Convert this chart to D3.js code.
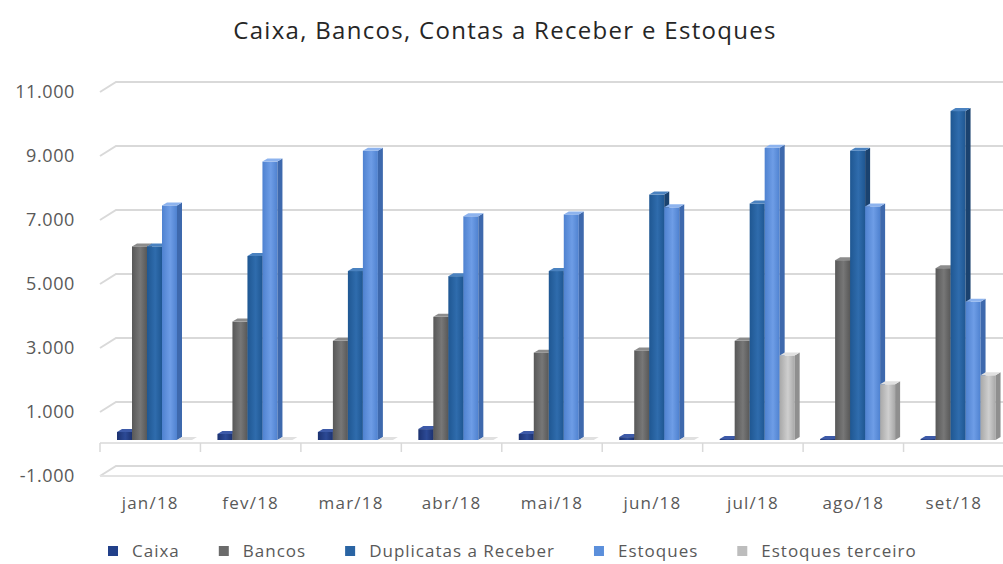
<!DOCTYPE html>
<html>
<head>
<meta charset="utf-8">
<script src="https://cdn.jsdelivr.net/npm/d3@7"></script>
<style>
  body { margin: 0; background: #fff; }
  text { font-family: "Open Sans", sans-serif; fill: #595959; }
</style>
</head>
<body>
<div id="chart"></div>
<script>
// data
let months = ["jan/18", "fev/18", "mar/18", "abr/18", "mai/18", "jun/18", "jul/18", "ago/18", "set/18"];
let seriesNames = ["Caixa", "Bancos", "Duplicatas a Receber", "Estoques", "Estoques terceiro"];
let caixa = [250, 190, 250, 340, 190, 90, 30, 30, 30];
let bancos = [6050, 3700, 3100, 3850, 2730, 2800, 3100, 5620, 5370];
let duplicatas = [6050, 5750, 5280, 5120, 5280, 7670, 7390, 9040, 10280];
let estoques = [7330, 8700, 9040, 6990, 7050, 7270, 9130, 7300, 4320];
let terceiro = [0, 0, 0, 0, 0, 0, 2640, 1740, 2020];
let yTicks = [-1000, 1000, 3000, 5000, 7000, 9000, 11000];

let values = [caixa, bancos, duplicatas, estoques, terceiro];

let width = 1003, height = 564;

// shades: front (left, mid), side, top, legend
let colors = [
  {l: "#1c3270", m: "#2c4a96", side: "#15275a", top: "#3d5aa8", key: "#22408a"},
  {l: "#585858", m: "#777777", side: "#474747", top: "#8c8c8c", key: "#6b6b6b"},
  {l: "#1f5792", m: "#2f6cad", side: "#1a426f", top: "#4a82c0", key: "#2a64a3"},
  {l: "#4f82d0", m: "#6e9de6", side: "#3e69ad", top: "#8db3ee", key: "#5b8fdb"},
  {l: "#a8a8a8", m: "#cfcfcf", side: "#8f8f8f", top: "#e0e0e0", key: "#bdbdbd"}
];

let pt = d3.formatLocale({decimal: ",", thousands: ".", grouping: [3], currency: ["R$", ""], minus: "-"});
let fmt = pt.format(",.0f");

let svg = d3.select("#chart")
.append("svg")
.attr("width", width)
.attr("height", height);

let defs = svg.append("defs");
colors.forEach(function(c, i) {
  let g = defs.append("linearGradient")
  .attr("id", "grad" + i)
  .attr("x1", 0).attr("x2", 1).attr("y1", 0).attr("y2", 0);
  g.append("stop").attr("offset", "0%").attr("stop-color", c.l);
  g.append("stop").attr("offset", "55%").attr("stop-color", c.m);
  g.append("stop").attr("offset", "100%").attr("stop-color", c.l);
});

let x = d3.scaleBand().domain(months).range([100, 1004]).padding(0);
let xs = d3.scaleBand().domain(seriesNames).range([17, 92]).padding(0);
let y = d3.scaleLinear().domain([-1000, 11000]).range([476, 92]);

// box depth (walls) and bar depth
let wallDx = 16, wallDy = 10;
let barDx = 5, barDy = 3, barShift = 4;

// title
svg.append("text")
.attr("x", 505)
.attr("y", 33)
.attr("text-anchor", "middle")
.attr("dominant-baseline", "middle")
.style("font-size", "24px")
.style("letter-spacing", "1.3px")
.style("fill", "#262626")
.text("Caixa, Bancos, Contas a Receber e Estoques");

// gridlines on left + back walls
svg.append("g")
.selectAll("path")
.data(yTicks)
.enter().append("path")
.attr("fill", "none")
.attr("stroke", "#d9d9d9")
.attr("stroke-width", 2)
.attr("d", function(d) {
  return "M" + 100 + "," + y(d) + "L" + (100 + wallDx) + "," + (y(d) - wallDy) + "L" + width + "," + (y(d) - wallDy);
});

// floor front edge
svg.append("line")
.attr("x1", 100).attr("x2", width)
.attr("y1", y(-1000)).attr("y2", y(-1000))
.attr("stroke", "#e3e3e3").attr("stroke-width", 2);

// y labels
svg.append("g")
.selectAll("text")
.data(yTicks)
.enter().append("text")
.attr("x", 75)
.attr("y", d => y(d) + 1)
.attr("text-anchor", "end")
.attr("dominant-baseline", "middle")
.style("font-size", "18px")
.style("letter-spacing", "0.6px")
.text(d => fmt(d));

// category axis at zero
let axisY = y(0) - 1;
svg.append("line")
.attr("x1", 100).attr("x2", width)
.attr("y1", axisY).attr("y2", axisY)
.attr("stroke", "#d9d9d9").attr("stroke-width", 1.5);

svg.append("g")
.selectAll("line")
.data(months)
.enter().append("line")
.attr("x1", d => x(d)).attr("x2", d => x(d))
.attr("y1", axisY).attr("y2", axisY + 9)
.attr("stroke", "#d9d9d9").attr("stroke-width", 1.5);

svg.append("g")
.selectAll("text")
.data(months)
.enter().append("text")
.attr("x", d => x(d) + x.bandwidth() / 2)
.attr("y", 504)
.attr("text-anchor", "middle")
.attr("dominant-baseline", "middle")
.style("font-size", "17px")
.style("letter-spacing", "1.2px")
.text(d => d);

// bars
let bars = [];
months.forEach(function(m, i) {
  seriesNames.forEach(function(s, j) {
    bars.push({month: m, series: s, j: j, value: values[j][i]});
  });
});

let bar = svg.append("g")
.selectAll("g")
.data(bars)
.enter().append("g");

function geom(d) {
  let x0 = x(d.month) + xs(d.series);
  let w = xs.bandwidth();
  let yt = y(d.value) - barShift;
  let yb = y(0) - barShift;
  return {x0: x0, w: w, yt: yt, yb: yb};
}

bar.append("rect")
.attr("x", d => geom(d).x0)
.attr("y", d => geom(d).yt)
.attr("width", d => geom(d).w)
.attr("height", d => geom(d).yb - geom(d).yt)
.attr("fill", d => "url(#grad" + d.j + ")");

bar.append("path")
.attr("fill", d => colors[d.j].side)
.attr("d", function(d) {
  let g = geom(d);
  return "M" + (g.x0 + g.w) + "," + g.yt
  + "L" + (g.x0 + g.w + barDx) + "," + (g.yt - barDy)
  + "L" + (g.x0 + g.w + barDx) + "," + (g.yb - barDy)
  + "L" + (g.x0 + g.w) + "," + g.yb + "Z";
});

bar.append("path")
.attr("fill", d => colors[d.j].top)
.attr("d", function(d) {
  let g = geom(d);
  return "M" + g.x0 + "," + g.yt
  + "L" + (g.x0 + barDx) + "," + (g.yt - barDy)
  + "L" + (g.x0 + g.w + barDx) + "," + (g.yt - barDy)
  + "L" + (g.x0 + g.w) + "," + g.yt + "Z";
});

// legend
let legend = svg.append("g");
let lx = 108;
seriesNames.forEach(function(s, j) {
  legend.append("rect")
  .attr("x", lx).attr("y", 546)
  .attr("width", 10).attr("height", 10)
  .attr("fill", colors[j].key);
  let t = legend.append("text")
  .attr("x", lx + 24)
  .attr("y", 552)
  .attr("dominant-baseline", "middle")
  .style("font-size", "17px")
  .style("letter-spacing", "1px")
  .text(s);
  lx = lx + 24 + t.node().getComputedTextLength() + 39;
});
</script>
</body>
</html>
